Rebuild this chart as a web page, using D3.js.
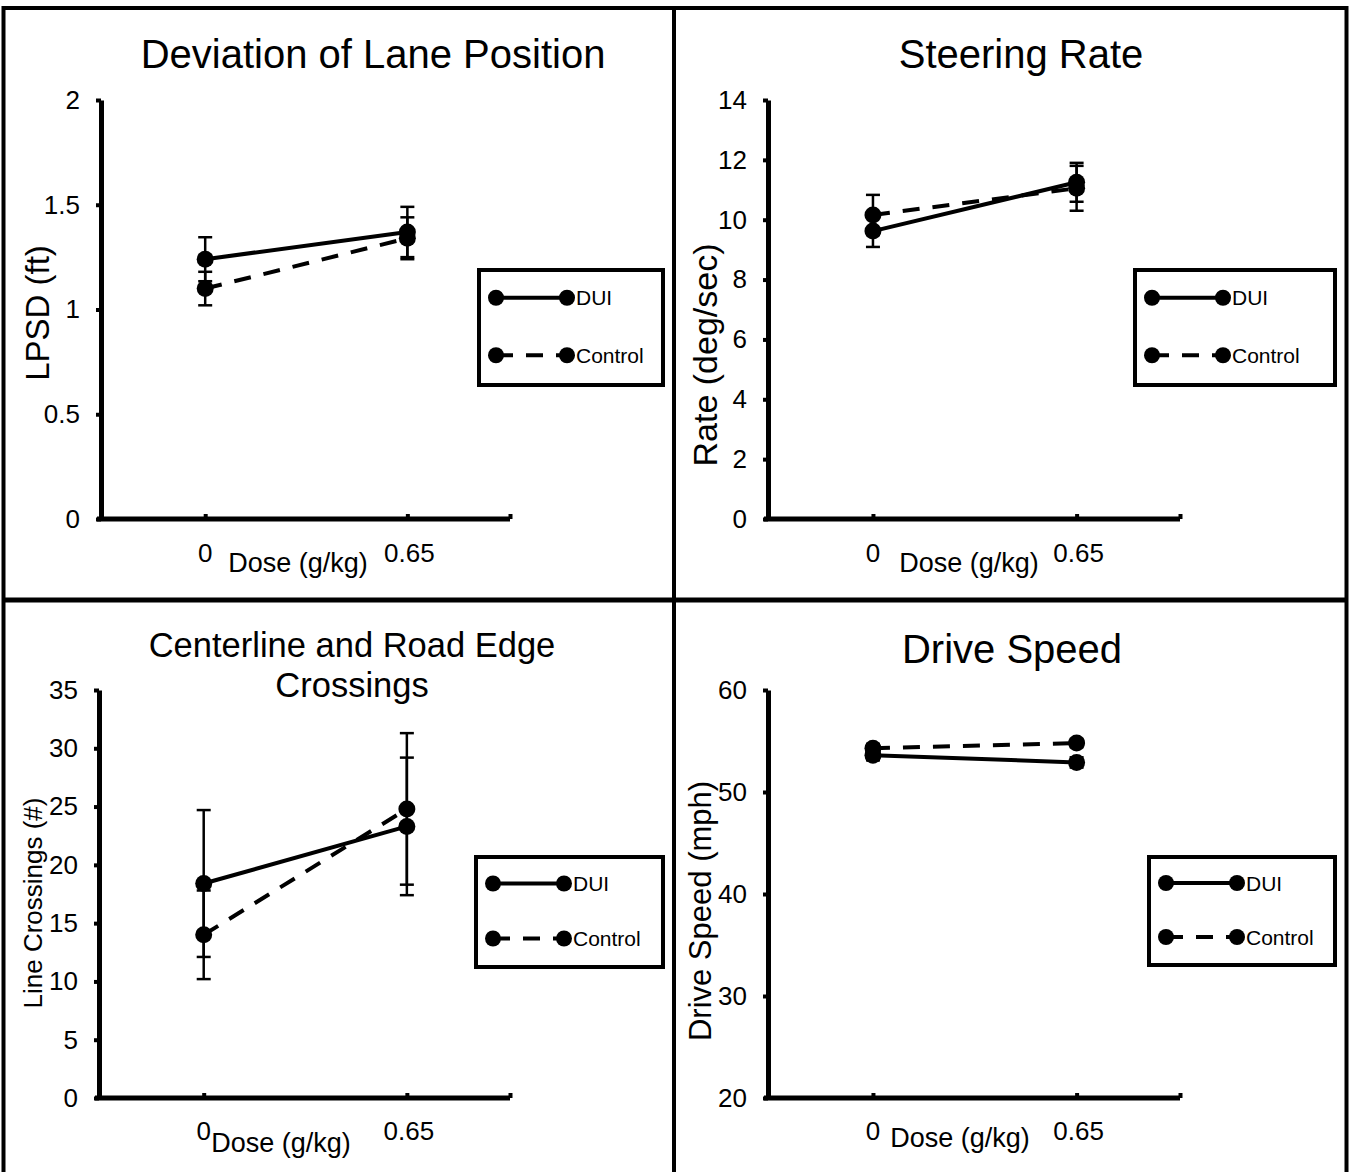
<!DOCTYPE html>
<html>
<head>
<meta charset="utf-8">
<script src="https://cdnjs.cloudflare.com/ajax/libs/d3/7.8.5/d3.min.js"></script>
<style>
  body { margin: 0; background: #fff; }
  text { font-family: "Liberation Sans", Arial, sans-serif; fill: #000; }
</style>
</head>
<body>
<div id="chart"></div>
<script>
// doses on the x axis
var doses = [0, 0.65];
var doseLabels = ["0", "0.65"];
var seriesNames = ["DUI", "Control"];

// Deviation of Lane Position
var lpsdDUI = [1.24, 1.37];
var lpsdDUIErr = [0.105, 0.12];
var lpsdControl = [1.10, 1.34];
var lpsdControlErr = [0.08, 0.10];
var lpsdTicks = [0, 0.5, 1, 1.5, 2];

// Steering Rate
var steerDUI = [9.62, 11.25];
var steerDUIErr = [0.53, 0.65];
var steerControl = [10.16, 11.05];
var steerControlErr = [0.67, 0.75];
var steerTicks = [0, 2, 4, 6, 8, 10, 12, 14];

// Centerline and Road Edge Crossings
var crossDUI = [18.4, 23.3];
var crossDUIErr = [6.3, 5.9];
var crossControl = [14.0, 24.8];
var crossControlErr = [3.8, 6.5];
var crossTicks = [0, 5, 10, 15, 20, 25, 30, 35];

// Drive Speed
var speedDUI = [53.6, 52.9];
var speedDUIErr = [0.5, 0.5];
var speedControl = [54.3, 54.8];
var speedControlErr = [0.4, 0.4];
var speedTicks = [20, 30, 40, 50, 60];

var panels = [
  { title: ["Deviation of Lane Position"], ylab: "LPSD (ft)", dui: lpsdDUI, duiErr: lpsdDUIErr,
    ctl: lpsdControl, ctlErr: lpsdControlErr, ticks: lpsdTicks, fmt: d3.format("~g"),
    x0: 101, x1: 510, yTop: 100, yBot: 519, titleX: 373, titleY: [68], titleSize: 40,
    ylabX: 37, ylabY: 313, ylabSize: 33, xlabX: 298, xlabY: 572, tickLabY: 562,
    leg: [479, 270, 184, 115] },
  { title: ["Steering Rate"], ylab: "Rate (deg/sec)", dui: steerDUI, duiErr: steerDUIErr,
    ctl: steerControl, ctlErr: steerControlErr, ticks: steerTicks, fmt: d3.format("d"),
    x0: 768, x1: 1180, yTop: 100, yBot: 519, titleX: 1021, titleY: [68], titleSize: 40,
    ylabX: 705, ylabY: 355, ylabSize: 34, xlabX: 969, xlabY: 572, tickLabY: 562,
    leg: [1135, 270, 200, 115] },
  { title: ["Centerline and Road Edge", "Crossings"], ylab: "Line Crossings (#)", dui: crossDUI, duiErr: crossDUIErr,
    ctl: crossControl, ctlErr: crossControlErr, ticks: crossTicks, fmt: d3.format("d"),
    x0: 99, x1: 510, yTop: 690, yBot: 1098, titleX: 352, titleY: [657, 697], titleSize: 34.5,
    ylabX: 33, ylabY: 903, ylabSize: 26, xlabX: 281, xlabY: 1152, tickLabY: 1140,
    leg: [476, 857, 187, 110] },
  { title: ["Drive Speed"], ylab: "Drive Speed (mph)", dui: speedDUI, duiErr: speedDUIErr,
    ctl: speedControl, ctlErr: speedControlErr, ticks: speedTicks, fmt: d3.format("d"),
    x0: 768, x1: 1180, yTop: 690, yBot: 1098, titleX: 1012, titleY: [663], titleSize: 40,
    ylabX: 700, ylabY: 911, ylabSize: 31, xlabX: 960, xlabY: 1147, tickLabY: 1140,
    leg: [1149, 857, 186, 108] }
];

var W = 1351, H = 1172;
var svg = d3.select("#chart").append("svg")
    .attr("width", W).attr("height", H);

svg.append("rect").attr("width", W).attr("height", H).attr("fill", "#fff");

// outer frame and dividers
svg.append("rect").attr("x", 3.5).attr("y", 8).attr("width", 1343).attr("height", 1180)
    .attr("fill", "none").attr("stroke", "#000").attr("stroke-width", 4);
svg.append("line").attr("x1", 674).attr("x2", 674).attr("y1", 8).attr("y2", H)
    .attr("stroke", "#000").attr("stroke-width", 4);
svg.append("line").attr("x1", 4).attr("x2", 1346).attr("y1", 600).attr("y2", 600)
    .attr("stroke", "#000").attr("stroke-width", 5);

var dash = "17,13";

panels.forEach(function(p) {
  var g = svg.append("g");
  var ext = d3.extent(p.ticks);
  var y = d3.scaleLinear().domain(ext).range([p.yBot, p.yTop]);
  var x = d3.scaleLinear().domain([-0.335, 0.98]).range([p.x0, p.x1]);

  // title
  p.title.forEach(function(t, i) {
    g.append("text").attr("x", p.titleX)
      .attr("y", p.titleY[i]).attr("text-anchor", "middle")
      .style("font-size", p.titleSize + "px").text(t);
  });

  // y axis
  var ya = g.append("g").attr("transform", "translate(" + p.x0 + ",0)")
    .call(d3.axisLeft(y).tickValues(p.ticks).tickFormat(p.fmt).tickSizeInner(5).tickSizeOuter(0).tickPadding(16));
  ya.select(".domain").attr("stroke-width", 5);
  ya.selectAll(".tick line").attr("stroke-width", 4);
  ya.selectAll(".tick text").style("font-size", "26px").attr("font-family", null);

  // x axis
  var xa = g.append("g").attr("transform", "translate(0," + p.yBot + ")")
    .call(d3.axisBottom(x).tickValues([0, 0.65, 0.98]).tickFormat("").tickSizeInner(-5).tickSizeOuter(0));
  xa.select(".domain").attr("stroke-width", 5).attr("d", "M" + (p.x0 - 4) + ",0H" + p.x1);
  xa.selectAll(".tick line").attr("stroke-width", 4);

  doses.forEach(function(d, i) {
    g.append("text").attr("x", x(d) + (i == 1 ? 2 : 0)).attr("y", p.tickLabY)
      .attr("text-anchor", "middle").style("font-size", "26px").text(doseLabels[i]);
  });
  g.append("text").attr("x", p.xlabX).attr("y", p.xlabY).attr("text-anchor", "middle")
    .style("font-size", "27px").text("Dose (g/kg)");

  // y label
  g.append("text").attr("transform", "translate(" + p.ylabX + "," + p.ylabY + ") rotate(-90)")
    .attr("text-anchor", "middle").attr("dy", "0.35em")
    .style("font-size", p.ylabSize + "px").text(p.ylab);

  var series = [
    { v: p.dui, e: p.duiErr, dash: null },
    { v: p.ctl, e: p.ctlErr, dash: dash }
  ];

  // error bars
  series.forEach(function(s) {
    doses.forEach(function(d, i) {
      var cx = x(d), hi = y(s.v[i] + s.e[i]), lo = y(s.v[i] - s.e[i]);
      g.append("line").attr("x1", cx).attr("x2", cx).attr("y1", hi).attr("y2", lo)
        .attr("stroke", "#000").attr("stroke-width", 2.5);
      [hi, lo].forEach(function(yy) {
        g.append("line").attr("x1", cx - 7).attr("x2", cx + 7).attr("y1", yy).attr("y2", yy)
          .attr("stroke", "#000").attr("stroke-width", 2.5);
      });
    });
  });

  var line = d3.line().x(function(d, i) { return x(doses[i]); }).y(function(d) { return y(d); });

  series.slice().reverse().forEach(function(s) {
    g.append("path").datum(s.v).attr("d", line).attr("fill", "none")
      .attr("stroke", "#000").attr("stroke-width", 4)
      .attr("stroke-dasharray", s.dash);
  });
  series.slice().reverse().forEach(function(s) {
    g.selectAll(null).data(s.v).enter().append("circle")
      .attr("cx", function(d, i) { return x(doses[i]); })
      .attr("cy", function(d) { return y(d); })
      .attr("r", 8.5).attr("fill", "#000");
  });

  // legend
  var L = p.leg;
  var lg = g.append("g");
  lg.append("rect").attr("x", L[0]).attr("y", L[1]).attr("width", L[2]).attr("height", L[3])
    .attr("fill", "#fff").attr("stroke", "#000").attr("stroke-width", 4);
  series.forEach(function(s, k) {
    var ly = L[1] + (k == 0 ? 0.25 : 0.75) * L[3] - 1;
    var lx0 = L[0] + 17, lx1 = L[0] + 88;
    lg.append("line").attr("x1", lx0).attr("x2", lx1).attr("y1", ly).attr("y2", ly)
      .attr("stroke", "#000").attr("stroke-width", 4).attr("stroke-dasharray", s.dash);
    [lx0, lx1].forEach(function(cx) {
      lg.append("circle").attr("cx", cx).attr("cy", ly).attr("r", 8).attr("fill", "#000");
    });
    lg.append("text").attr("x", lx1 + 9).attr("y", ly).attr("dy", "0.36em")
      .style("font-size", "21px").text(seriesNames[k]);
  });
});
</script>
</body>
</html>
